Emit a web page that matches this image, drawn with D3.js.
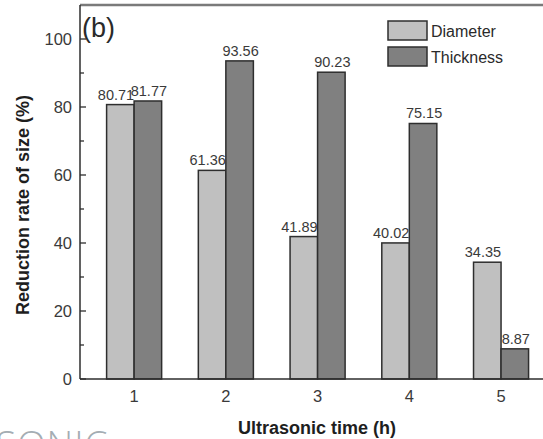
<!DOCTYPE html>
<html>
<head>
<meta charset="utf-8">
<script src="https://cdn.jsdelivr.net/npm/d3@7"></script>
<style>
	body { margin:0; background:#fff; }
	svg { display:block; font-family:"Liberation Sans", Arial, sans-serif; }
	.tick-label { fill:#3a3a3a; font-size:16.5px; }
	.value-label { fill:#3a3a3a; font-size:14.5px; }
	.axis-title { fill:#1e1e1e; font-size:18px; font-weight:bold; }
</style>
</head>
<body>
<div id="chart"></div>
<script>

// data
var times = [1, 2, 3, 4, 5];
var diameter = [80.71, 61.36, 41.89, 40.02, 34.35];
var thickness = [81.77, 93.56, 90.23, 75.15, 8.87];
var seriesNames = ["Diameter", "Thickness"];
var yTicks = [0, 20, 40, 60, 80, 100];
var yMinorTicks = [10, 30, 50, 70, 90];

var W = 543, H = 439;
var plot = {left:80, right:546, top:5, bottom:379};

var svg = d3.select("#chart").append("svg")
	.attr("width", W)
	.attr("height", H);

// scales
var x = d3.scaleLinear().domain([0.41, 5.49]).range([plot.left, plot.right]);
var y = d3.scaleLinear().domain([0, 110]).range([plot.bottom, plot.top]);
var barW = x(1.3) - x(1); // each bar is 0.3 wide

var colors = {Diameter:"#c0c0c0", Thickness:"#808080"};

// watermark in the corner
svg.append("text")
	.attr("x", -4)
	.attr("y", 457)
	.style("font-family", "'Open Sans', sans-serif")
	.style("font-weight", 300)
	.style("font-size", "37px")
	.style("fill", "#a4adb3")
	.style("letter-spacing", "1px")
	.text("SONIC");

// bars
var rows = times.map(function(t, i){
	return [
		{name:"Diameter", time:t, value:diameter[i], x0:x(t) - barW},
		{name:"Thickness", time:t, value:thickness[i], x0:x(t)}
	];
});
var bars = svg.append("g").selectAll("g").data(rows).enter().append("g");

bars.selectAll("rect").data(function(d){ return d; }).enter().append("rect")
	.attr("x", function(d){ return d.x0; })
	.attr("y", function(d){ return y(d.value); })
	.attr("width", barW)
	.attr("height", function(d){ return y(0) - y(d.value); })
	.style("fill", function(d){ return colors[d.name]; })
	.style("stroke", "#2e2e2e")
	.style("stroke-width", 1.5);

// value labels: diameter ends at the group centre, thickness sits over its bar
bars.selectAll("text").data(function(d){ return d; }).enter().append("text")
	.attr("class", "value-label")
	.attr("x", function(d){
		return d.name == "Diameter" ? d.x0 + barW : d.x0 + barW/2 + 1;
	})
	.attr("y", function(d){ return y(d.value) - 5; })
	.style("text-anchor", function(d){ return d.name == "Diameter" ? "end" : "middle"; })
	.text(function(d){ return d.value.toFixed(2); });

// frame: grey top border, dark left/bottom axes
svg.append("line")
	.attr("x1", plot.left).attr("x2", W)
	.attr("y1", plot.top).attr("y2", plot.top)
	.style("stroke", "#7a7a7a").style("stroke-width", 2.5);

var yAxis = svg.append("g").attr("transform", "translate(" + plot.left + ",0)");
yAxis.append("line")
	.attr("y1", plot.top).attr("y2", plot.bottom)
	.style("stroke", "#2e2e2e").style("stroke-width", 1.5);
yAxis.selectAll(".major").data(yTicks).enter().append("line")
	.attr("class", "major")
	.attr("x1", 0).attr("x2", 6)
	.attr("y1", function(d){ return y(d); }).attr("y2", function(d){ return y(d); })
	.style("stroke", "#2e2e2e").style("stroke-width", 1.3);
yAxis.selectAll(".minor").data(yMinorTicks).enter().append("line")
	.attr("class", "minor")
	.attr("x1", 0).attr("x2", 4)
	.attr("y1", function(d){ return y(d); }).attr("y2", function(d){ return y(d); })
	.style("stroke", "#2e2e2e").style("stroke-width", 1.3);
yAxis.selectAll("text").data(yTicks).enter().append("text")
	.attr("class", "tick-label")
	.attr("x", -8)
	.attr("y", function(d){ return y(d); })
	.attr("dy", "0.36em")
	.style("text-anchor", "end")
	.text(function(d){ return d; });

var xAxis = svg.append("g").attr("transform", "translate(0," + plot.bottom + ")");
xAxis.append("line")
	.attr("x1", plot.left).attr("x2", W)
	.style("stroke", "#2e2e2e").style("stroke-width", 1.5);
xAxis.selectAll("text").data(times).enter().append("text")
	.attr("class", "tick-label")
	.attr("x", function(d){ return x(d); })
	.attr("y", 23)
	.style("text-anchor", "middle")
	.text(function(d){ return d; });

// axis titles
svg.append("text")
	.attr("class", "axis-title")
	.attr("transform", "translate(29,205) rotate(-90)")
	.style("text-anchor", "middle")
	.text("Reduction rate of size (%)");
svg.append("text")
	.attr("class", "axis-title")
	.attr("x", 317)
	.attr("y", 434)
	.style("text-anchor", "middle")
	.text("Ultrasonic time (h)");

// panel letter
svg.append("text")
	.attr("x", 82)
	.attr("y", 37)
	.style("font-size", "27px")
	.style("fill", "#2a2a2a")
	.text("(b)");

// legend
var legend = svg.append("g").attr("transform", "translate(388,21)");
var item = legend.selectAll("g").data(seriesNames).enter().append("g")
	.attr("transform", function(d, i){ return "translate(0," + (i*26) + ")"; });
item.append("rect")
	.attr("width", 39).attr("height", 19)
	.style("fill", function(d){ return colors[d]; })
	.style("stroke", "#2e2e2e").style("stroke-width", 1.5);
item.append("text")
	.attr("x", 43)
	.attr("y", 16)
	.style("font-size", "16px")
	.style("fill", "#2a2a2a")
	.text(function(d){ return d; });

</script>
</body>
</html>
